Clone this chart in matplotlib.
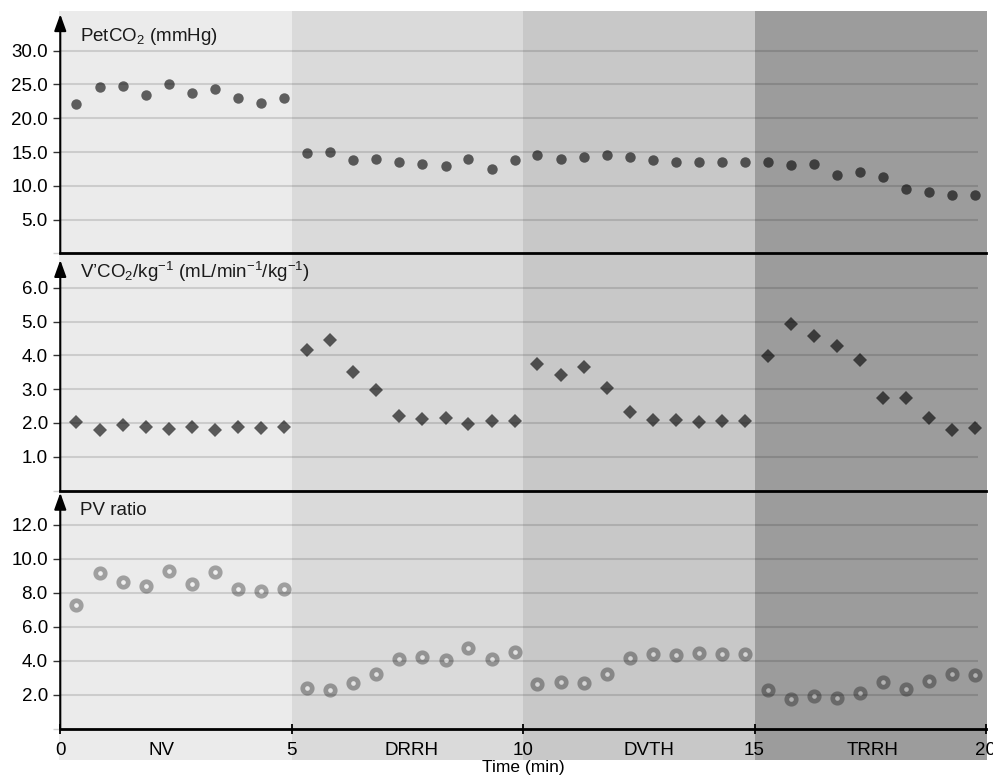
import numpy as np
import matplotlib
matplotlib.use("Agg")
import matplotlib.pyplot as plt
from matplotlib.patches import Rectangle
from matplotlib.transforms import blended_transform_factory

plt.rcParams['font.family'] = ['Liberation Sans', 'DejaVu Sans']
plt.rcParams['mathtext.fontset'] = 'custom'
plt.rcParams['mathtext.rm'] = 'Liberation Sans'
plt.rcParams['mathtext.default'] = 'regular'

# Data (time in min)
time = [0.35, 0.86, 1.36, 1.85, 2.35, 2.85, 3.34, 3.84, 4.34, 4.83,
        5.34, 5.83, 6.33, 6.83, 7.32, 7.82, 8.33, 8.82, 9.32, 9.82,
        10.31, 10.81, 11.31, 11.81, 12.30, 12.80, 13.30, 13.80, 14.30, 14.79,
        15.30, 15.79, 16.28, 16.78, 17.28, 17.78, 18.28, 18.78, 19.27, 19.77]

petco2 = [22.1, 24.6, 24.8, 23.5, 25.1, 23.8, 24.3, 23.0, 22.3, 23.0,
          14.8, 15.0, 13.8, 14.0, 13.5, 13.3, 13.0, 14.0, 12.5, 13.8,
          14.5, 14.0, 14.3, 14.5, 14.3, 13.8, 13.5, 13.5, 13.5, 13.5,
          13.5, 13.1, 13.3, 11.6, 12.1, 11.3, 9.6, 9.1, 8.6, 8.6]

vco2 = [2.04, 1.80, 1.94, 1.88, 1.81, 1.87, 1.78, 1.89, 1.85, 1.89,
        4.15, 4.44, 3.50, 2.97, 2.21, 2.13, 2.16, 1.98, 2.06, 2.05,
        3.73, 3.42, 3.65, 3.04, 2.33, 2.10, 2.09, 2.04, 2.07, 2.05,
        3.97, 4.94, 4.57, 4.29, 3.87, 2.74, 2.74, 2.14, 1.79, 1.84]

pv_ratio = [7.27, 9.12, 8.61, 8.37, 9.27, 8.53, 9.18, 8.18, 8.08, 8.18,
            2.39, 2.29, 2.67, 3.18, 4.10, 4.18, 4.04, 4.76, 4.08, 4.51,
            2.63, 2.75, 2.65, 3.22, 4.12, 4.39, 4.35, 4.43, 4.39, 4.41,
            2.27, 1.75, 1.94, 1.78, 2.10, 2.76, 2.33, 2.82, 3.18, 3.12]

phases = ['NV', 'DRRH', 'DVTH', 'TRRH']
phase_edges = [-0.03, 5, 10, 15, 20.03]
phase_colors = ['#ebebeb', '#dadada', '#c8c8c8', '#9c9c9c']
phase_label_x = [2.19, 7.59, 12.72, 17.56]

fig = plt.figure(figsize=(9.93, 7.79), dpi=100)

left, width = 0.0607, 0.9322
ax1 = fig.add_axes([left, 0.6746, width, 0.3113])
ax2 = fig.add_axes([left, 0.3703, width, 0.3042])
ax3 = fig.add_axes([left, 0.0648, width, 0.3055])

panels = [
    (ax1, 35.87, 35.4, [5, 10, 15, 20, 25, 30], 'PetCO$_2$ (mmHg)', 0.893),
    (ax2, 7.01, 6.82, [1, 2, 3, 4, 5, 6],
     'V\u2019CO$_2$/kg$^{-1}$ (mL/min$^{-1}$/kg$^{-1}$)', 0.923),
    (ax3, 14.0, 13.87, [2, 4, 6, 8, 10, 12], 'PV ratio', 0.918),
]

for ax, ytop, tip, yt, label, ly in panels:
    ax.set_facecolor('none')
    ax.set_xlim(0, 20)
    ax.set_ylim(0, ytop)
    for s in ['left', 'top', 'right']:
        ax.spines[s].set_visible(False)
    ax.spines['bottom'].set_linewidth(2)
    ax.spines['bottom'].set_color('black')
    ax.set_yticks(yt)
    ax.set_yticklabels([f'{v:.1f}' for v in yt])
    ax.set_yticks([0], minor=True)
    ax.tick_params(axis='y', which='major', direction='out', length=5, width=1,
                   color='#333333', labelsize=13.5, pad=4)
    ax.tick_params(axis='y', which='minor', direction='out', length=5, width=1,
                   color='#d0d0d0')
    ax.hlines(yt, 0, 19.82, colors='black', alpha=0.13, lw=1.5, zorder=1)
    ax.annotate('', xy=(0, tip), xytext=(0, 0),
                xycoords=ax.get_yaxis_transform(), textcoords=ax.get_yaxis_transform(),
                arrowprops=dict(arrowstyle='-|>,head_length=1.0,head_width=0.36',
                                mutation_scale=10, lw=1.5, color='black',
                                shrinkA=0, shrinkB=0),
                annotation_clip=False)
    ax.text(0.0213, ly, label, transform=ax.transAxes, fontsize=13.5,
            va='center', ha='left', color='#1a1a1a')

for ax in (ax1, ax2):
    ax.tick_params(axis='x', which='both', bottom=False, labelbottom=False)

# phase shading behind all three panels
btf = blended_transform_factory(ax3.transData, fig.transFigure)
for i, c in enumerate(phase_colors):
    r = Rectangle((phase_edges[i], 1 - 760 / 779), phase_edges[i + 1] - phase_edges[i],
                  (760 - 11) / 779, transform=btf, facecolor=c, edgecolor='none', zorder=-1)
    fig.add_artist(r)

ax1.plot(time, petco2, 'o', ms=7.5, mew=0, color='black', alpha=0.6, zorder=3)
ax2.plot(time, vco2, 'D', ms=7.2, mew=0, color='black', alpha=0.62, zorder=3)
ax3.plot(time, pv_ratio, 'o', ms=6.8, mfc='none', mec=(0, 0, 0, 0.32), mew=3.4, zorder=3)
ax3.plot(time, pv_ratio, 'o', ms=3.2, mew=0, color=(1, 1, 1, 0.22), zorder=3)

ax3.set_xticks([0, 5, 10, 15, 20])
ax3.set_xticklabels(['0', '5', '10', '15', '20'])
ax3.set_xticks(phase_label_x, minor=True)
ax3.set_xticklabels(phases, minor=True)
ax3.tick_params(axis='x', which='major', direction='inout', length=7, width=1.3,
                color='black', labelsize=13.5, pad=6)
ax3.tick_params(axis='x', which='minor', length=0, labelsize=13.5, pad=9.5)
ax3.set_xlabel('Time (min)', fontsize=12.5, labelpad=1)

fig.savefig('out.png', dpi=100)
